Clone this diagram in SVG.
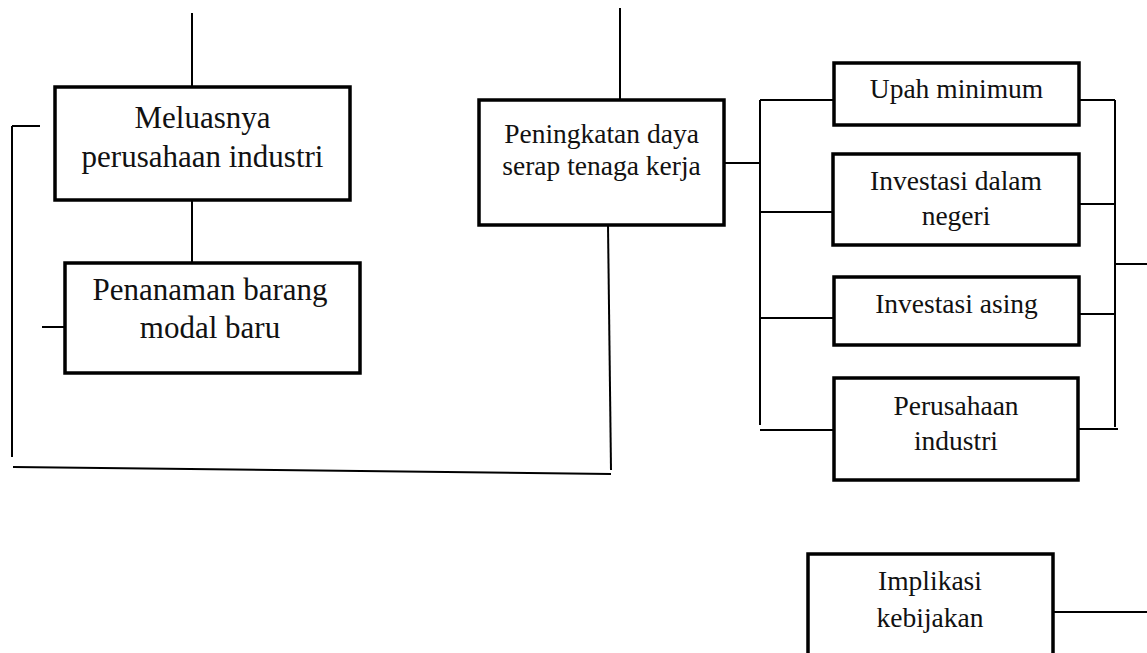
<svg xmlns="http://www.w3.org/2000/svg" width="1147" height="653" viewBox="0 0 1147 653">
<style>
.box{fill:#fff;stroke:#000;stroke-width:3.5}
.ln{stroke:#000;stroke-width:2;fill:none}
.t{font-family:"Liberation Serif","Times New Roman",serif;fill:#111;text-anchor:middle}
.big{font-size:31px}
.sm{font-size:27.5px}
</style>
<rect width="1147" height="653" fill="#fff"/>
<g id="connectors">
<line class="ln" x1="192" y1="13" x2="192" y2="87"/>
<line class="ln" x1="192" y1="200" x2="192" y2="263"/>
<line class="ln" x1="12" y1="126" x2="40" y2="126"/>
<line class="ln" x1="12" y1="126" x2="12" y2="457"/>
<line class="ln" x1="13" y1="467" x2="611" y2="474"/>
<line class="ln" x1="608" y1="225" x2="611" y2="470"/>
<line class="ln" x1="42" y1="327" x2="65" y2="327"/>
<line class="ln" x1="620" y1="8" x2="620" y2="100"/>
<line class="ln" x1="724" y1="163" x2="760" y2="163"/>
<line class="ln" x1="760" y1="100" x2="760" y2="425"/>
<line class="ln" x1="760" y1="100" x2="834" y2="100"/>
<line class="ln" x1="760" y1="212" x2="833" y2="212"/>
<line class="ln" x1="760" y1="318" x2="834" y2="318"/>
<line class="ln" x1="760" y1="430" x2="834" y2="430"/>
<line class="ln" x1="1079" y1="100" x2="1115" y2="100"/>
<line class="ln" x1="1115" y1="100" x2="1115" y2="427"/>
<line class="ln" x1="1079" y1="204" x2="1115" y2="204"/>
<line class="ln" x1="1079" y1="314" x2="1115" y2="314"/>
<line class="ln" x1="1079" y1="429" x2="1118" y2="429"/>
<line class="ln" x1="1115" y1="264" x2="1147" y2="264"/>
<line class="ln" x1="1053" y1="612" x2="1147" y2="612"/>
</g>
<g id="meluasnya">
<rect class="box" x="55" y="87" width="295" height="113"/>
<text class="t big" x="202.5" y="128">Meluasnya</text>
<text class="t big" x="202.5" y="167">perusahaan industri</text>
</g>
<g id="penanaman">
<rect class="box" x="65" y="263" width="295" height="110"/>
<text class="t big" x="210" y="300">Penanaman barang</text>
<text class="t big" x="210" y="338">modal baru</text>
</g>
<g id="peningkatan">
<rect class="box" x="479" y="100" width="245" height="125"/>
<text class="t sm" x="601.5" y="143">Peningkatan daya</text>
<text class="t sm" x="601.5" y="175">serap tenaga kerja</text>
</g>
<g id="upah">
<rect class="box" x="834" y="63" width="245" height="62"/>
<text class="t sm" x="956.5" y="98">Upah minimum</text>
</g>
<g id="investasi-dalam">
<rect class="box" x="833" y="154" width="246" height="91"/>
<text class="t sm" x="956" y="190">Investasi dalam</text>
<text class="t sm" x="956" y="225">negeri</text>
</g>
<g id="investasi-asing">
<rect class="box" x="834" y="277" width="245" height="68"/>
<text class="t sm" x="956.5" y="313">Investasi asing</text>
</g>
<g id="perusahaan">
<rect class="box" x="834" y="378" width="244" height="102"/>
<text class="t sm" x="956" y="415">Perusahaan</text>
<text class="t sm" x="956" y="450">industri</text>
</g>
<g id="implikasi">
<rect class="box" x="808" y="554" width="245" height="110"/>
<text class="t sm" x="930" y="590">Implikasi</text>
<text class="t sm" x="930" y="627">kebijakan</text>
</g>
</svg>
